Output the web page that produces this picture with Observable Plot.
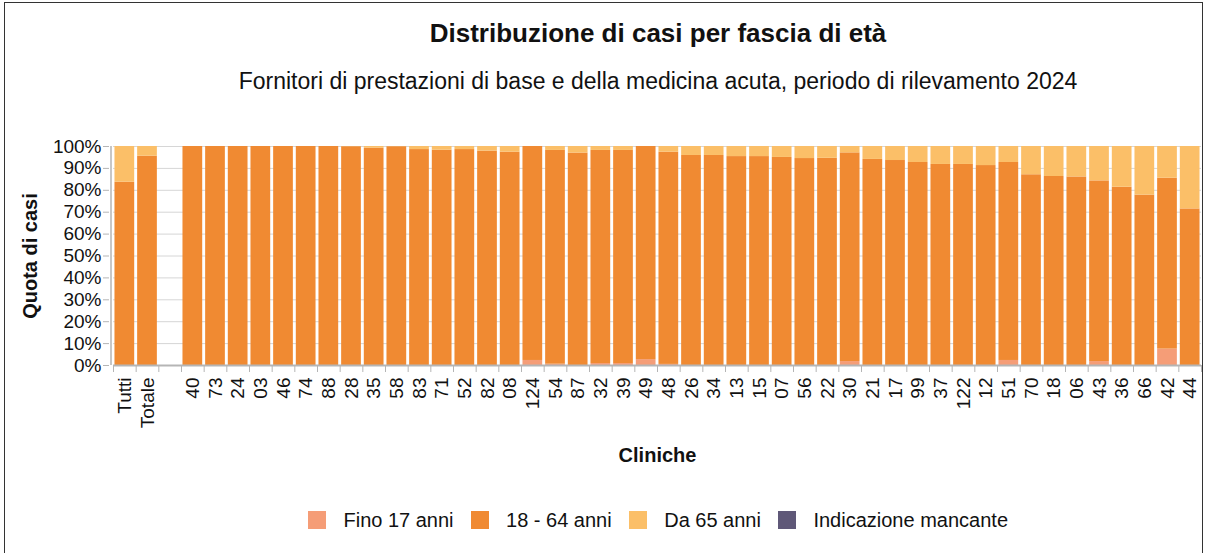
<!DOCTYPE html>
<html>
<head>
<meta charset="utf-8">
<script src="https://cdn.jsdelivr.net/npm/d3@7"></script>
<script src="https://cdn.jsdelivr.net/npm/@observablehq/plot@0.6"></script>
<style>
  body { margin: 0; background: #fff; font-family: "Liberation Sans", Arial, sans-serif; color: #111; }
  #page { position: relative; width: 1206px; height: 553px; overflow: hidden; }
  #border { position: absolute; left: 4px; top: 2px; width: 1197px; height: 620px; border: 1.5px solid #333; pointer-events: none; }
  #head { position: relative; height: 130px; }
  #title { position: absolute; left: 110px; right: 0; top: 18px; text-align: center; font-size: 26px; line-height: 30px; font-weight: bold; }
  #subtitle { position: absolute; left: 110px; right: 0; top: 68px; text-align: center; font-size: 23px; line-height: 26px; }
  #chart svg { display: block; }
  #legend { display: flex; justify-content: center; align-items: center; padding-left: 110px; padding-top: 31px; height: 18px; font-size: 20px; }
  .item { display: flex; align-items: center; margin: 0 8.5px; }
  .sw { width: 18px; height: 18px; margin-right: 17.5px; }
</style>
</head>
<body>
<div id="page">
  <div id="head">
    <div id="title">Distribuzione di casi per fascia di età</div>
    <div id="subtitle">Fornitori di prestazioni di base e della medicina acuta, periodo di rilevamento 2024</div>
  </div>
  <div id="chart"></div>
  <div id="legend"></div>
  <div id="border"></div>
</div>
<script>
const categories = ["Tutti","Totale","","40","73","24","03","46","74","88","28","35","58","83","71","52","82","08","124","54","87","32","39","49","48","26","34","13","15","07","56","22","30","21","17","99","37","122","12","51","70","18","06","43","36","66","42","44"];
const groups = ["Fino 17 anni", "18 - 64 anni", "Da 65 anni", "Indicazione mancante"];
const colors = ["#F59D77", "#F08A32", "#FBBF68", "#5F5878"];
const fino17 = [0, 0, null, 0, 0, 0, 0, 0, 0, 0, 0, 0, 0, 0, 0, 0, 0, 0, 2.3, 0.6, 0, 0.9, 0.9, 2.7, 0.5, 0, 0, 0, 0, 0, 0, 0, 1.8, 0, 0, 0, 0, 0, 0, 2.3, 0, 0, 0, 1.8, 0, 0, 7.5, 0];
const adulti = [83.7, 95.6, null, 100, 100, 100, 100, 100, 100, 100, 99.9, 99.2, 99.9, 98.6, 98.3, 98.6, 97.9, 97.4, 97.7, 97.6, 97.0, 97.3, 97.3, 97.3, 96.9, 95.9, 95.9, 95.4, 95.4, 95.0, 94.5, 94.6, 95.3, 94.1, 93.6, 92.7, 91.8, 91.8, 91.3, 90.4, 87.1, 86.3, 86.1, 82.5, 81.4, 77.8, 78.0, 71.5];
const anziani = [16.3, 4.4, null, 0, 0, 0, 0, 0, 0, 0, 0.1, 0.8, 0.1, 1.4, 1.7, 1.4, 2.1, 2.6, 0, 1.8, 3.0, 1.8, 1.8, 0, 2.6, 4.1, 4.1, 4.6, 4.6, 5.0, 5.5, 5.4, 2.9, 5.9, 6.4, 7.3, 8.2, 8.2, 8.7, 7.3, 12.9, 13.7, 13.9, 15.7, 18.6, 22.2, 14.5, 28.5];
const mancante = [0, 0, null, 0, 0, 0, 0, 0, 0, 0, 0, 0, 0, 0, 0, 0, 0, 0, 0, 0, 0, 0, 0, 0, 0, 0, 0, 0, 0, 0, 0, 0, 0, 0, 0, 0, 0, 0, 0, 0, 0, 0, 0, 0, 0, 0, 0, 0];
const yTicks = [0, 10, 20, 30, 40, 50, 60, 70, 80, 90, 100];

const series = [fino17, adulti, anziani, mancante];
const data = [];
categories.forEach((c, i) => {
  series.forEach((s, g) => {
    if (s[i] != null) data.push({cat: c, group: groups[g], value: s[i]});
  });
});

const W = 1206, H = 350;
const mL = 113, mR = 5, mT = 16, mB = 115;
const step = (W - mL - mR) / categories.length;
const axisColor = "#b5b5b5";

const chart = Plot.plot({
  width: W, height: H,
  marginLeft: mL, marginRight: mR, marginTop: mT, marginBottom: mB,
  style: {fontFamily: "'Liberation Sans', Arial, sans-serif", color: "#111", background: "transparent"},
  x: {domain: categories, paddingInner: 0.13, paddingOuter: 0.065, axis: null, label: null},
  y: {domain: [0, 100], axis: null, label: null},
  color: {domain: groups, range: colors},
  marks: [
    Plot.gridY(yTicks, {stroke: "#d6d6d6", strokeOpacity: 1}),
    Plot.barY(data, {x: "cat", y: "value", fill: "group"}),
    Plot.ruleY([0], {stroke: axisColor, strokeWidth: 2}),
    Plot.ruleX([categories[0]], {y1: 0, y2: 100, dx: -step / 2 - 2.5, stroke: axisColor, strokeWidth: 1.5}),
    Plot.axisY({ticks: yTicks, tickFormat: d => d + "%", tickSize: 6, tickPadding: 2, dx: -4, fontSize: 19, stroke: axisColor, label: null}),
    Plot.axisX({tickSize: 0, tickRotate: -90, tickPadding: 12, fontSize: 19, label: null}),
    Plot.axisX({tickSize: 7, tickFormat: () => "", dx: -step / 2, stroke: axisColor, label: null}),
    Plot.axisX({ticks: [categories[categories.length - 1]], tickSize: 7, tickFormat: () => "", dx: step / 2, stroke: axisColor, label: null}),
    Plot.text(["Quota di casi"], {frameAnchor: "left", textAnchor: "middle", lineAnchor: "middle", rotate: -90, dx: -83, fontWeight: "bold", fontSize: 20}),
    Plot.text(["Cliniche"], {frameAnchor: "bottom", lineAnchor: "middle", dy: 90, fontWeight: "bold", fontSize: 20})
  ]
});
document.getElementById("chart").appendChild(chart);

const legend = document.getElementById("legend");
groups.forEach((g, i) => {
  const item = document.createElement("div");
  item.className = "item";
  const sw = document.createElement("span");
  sw.className = "sw";
  sw.style.background = colors[i];
  const t = document.createElement("span");
  t.textContent = g;
  item.appendChild(sw);
  item.appendChild(t);
  legend.appendChild(item);
});
</script>
</body>
</html>
